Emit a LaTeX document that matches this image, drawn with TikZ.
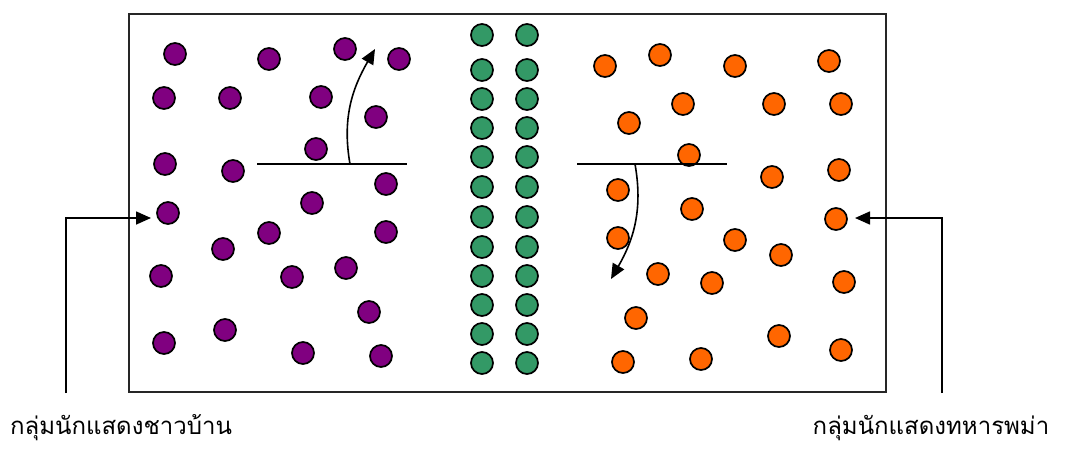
\documentclass[tikz,border=0pt]{standalone}
\usepackage{fontspec}
\newfontfamily\thaifont[Script=Thai]{Loma}
\usetikzlibrary{arrows.meta}
\definecolor{villager-purple}{HTML}{800080}
\definecolor{soldier-orange}{HTML}{FF6600}
\definecolor{wall-green}{HTML}{339966}

\begin{document}
\begin{tikzpicture}[
  x=1pt, y=-1pt,
  >={Triangle[length=15pt,width=13pt]},
  dot/.style={circle, draw=black, line width=1.7pt, minimum size=22pt, inner sep=0pt},
  villager/.style={dot, fill=villager-purple},
  soldier/.style={dot, fill=soldier-orange},
  wall/.style={dot, fill=wall-green},
  stage/.style={draw=black!85, line width=2pt},
  ledge/.style={line width=1.5pt},
  move/.style={->, line width=1.6pt},
  glabel/.style={font=\thaifont\fontsize{24}{28}\selectfont, inner sep=0pt},
]
  \useasboundingbox (0,0) rectangle (1070,448);
  \draw[stage] (129,14) rectangle (886,392);

  % villagers (left)
  \foreach \x/\y [count=\i] in {175/54, 269/59, 345/49, 399/59, 164/98, 230/98,
      321/97, 376/117, 316/149, 165/164, 233/171, 386/184, 312/203, 168/213,
      269/233, 223/249, 386/232, 161/276, 292/277, 346/268, 369/312, 164/343,
      225/330, 303/353, 381/356}
    \node[villager] (v\i) at (\x,\y) {};

  % soldiers (right)
  \foreach \x/\y [count=\i] in {605/66, 660/55, 735/66, 829/61, 683/104, 774/104,
      841/104, 629/123, 689/155, 772/177, 839/170, 618/190, 692/209, 836/219,
      618/238, 735/240, 781/255, 658/274, 712/283, 844/282, 636/318, 779/336,
      623/362, 701/359, 841/350}
    \node[soldier] (s\i) at (\x,\y) {};

  % wall in the middle
  \foreach \y [count=\i] in {35, 70, 99, 128, 157, 187, 217, 247, 276, 305, 334, 363} {
    \node[wall] (wl\i) at (482,\y) {};
    \node[wall] (wr\i) at (527,\y) {};
  }

  % lines and moves
  \coordinate (lline-w) at (257,164);
  \coordinate (lline-e) at (407,164);
  \coordinate (lmove-s) at (350,164);
  \coordinate (lmove-e) at (375,49);
  \draw[ledge] (lline-w) -- (lline-e);
  \draw[move] (lmove-s) to[out=100,in=240] (lmove-e);

  \coordinate (rline-w) at (577,164);
  \coordinate (rline-e) at (727,164);
  \coordinate (rmove-s) at (635,164);
  \coordinate (rmove-e) at (611,279);
  \draw[ledge] (rline-w) -- (rline-e);
  \draw[move] (rmove-s) to[out=-80,in=60] (rmove-e);

  % group labels
  \node[glabel] (villagers) at (121,428) {กลุ่มนักแสดงชาวบ้าน};
  \node[glabel] (soldiers) at (931,428) {กลุ่มนักแสดงทหารพม่า};
  \coordinate (lfoot) at (66,393);
  \coordinate (ltip) at (151,218);
  \coordinate (rfoot) at (942,393);
  \coordinate (rtip) at (855,218);
  \draw[move] (lfoot) |- (ltip);
  \draw[move] (rfoot) |- (rtip);
\end{tikzpicture}
\end{document}
